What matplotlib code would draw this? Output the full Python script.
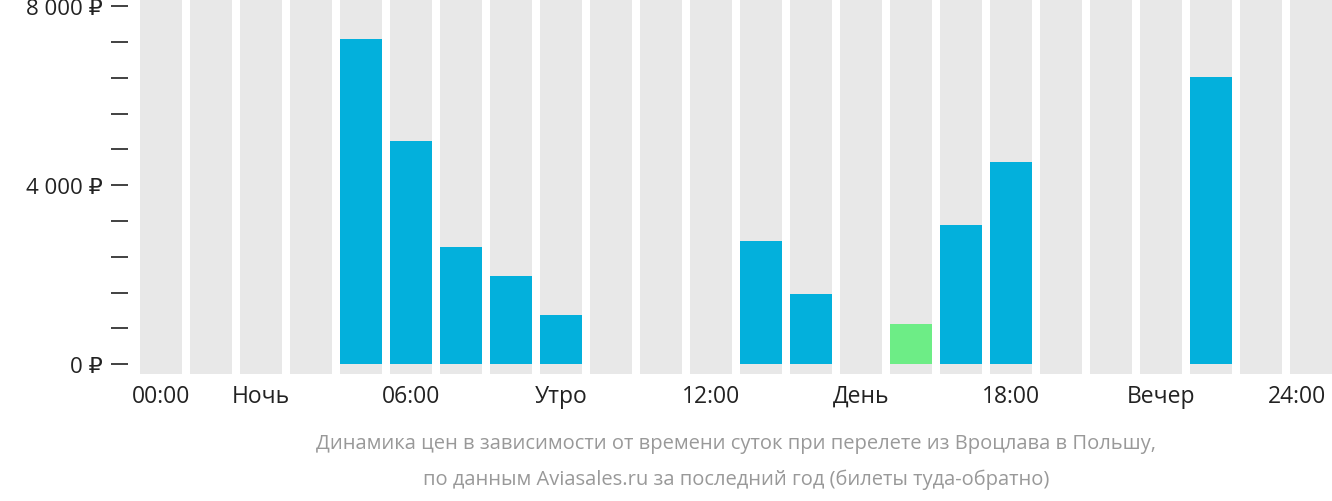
import matplotlib
matplotlib.use("Agg")
import matplotlib.pyplot as plt
import numpy as np

plt.rcParams['font.family'] = ['Open Sans', 'DejaVu Sans']

hours = list(range(24))
prices = [0, 0, 0, 0, 7263, 4983, 2615, 1966, 1095, 0, 0, 0, 2749, 1564, 0, 894, 3106, 4514, 0, 0, 0, 6413, 0, 0]
cheapest = 15
xtick_pos = [0, 2, 5, 8, 11, 14, 17, 20, 22.72]
xtick_labels = ["00:00", "Ночь", "06:00", "Утро", "12:00", "День", "18:00", "Вечер", "24:00"]
ytick_major = [0, 4000, 8000]
ytick_labels = ["0 ₽", "4 000 ₽", "8 000 ₽"]

fig = plt.figure(figsize=(13.32, 5.02), dpi=100)
ax = fig.add_axes([135/1332, 127/502, 1197/1332, 375/502])
ax.set_xlim(-0.52, 23.42)
ax.set_ylim(-220, 8160)

ax.bar(hours, [8380]*24, bottom=-220, width=0.84, color='#e8e8e8', zorder=1)
colors = ['#6ded86' if i == cheapest else '#03b0dc' for i in hours]
ax.bar(hours, prices, width=0.84, color=colors, zorder=2)

for s in ax.spines.values():
    s.set_visible(False)
ax.spines['left'].set_position(('outward', 5))
ax.set_yticks(ytick_major)
ax.set_yticklabels(ytick_labels)
ax.set_yticks(np.arange(0, 8001, 800), minor=True)
ax.tick_params(axis='y', which='both', length=12, width=1.3, color='#333333', labelsize=16, labelcolor='#222222', pad=6)
ax.set_xticks(xtick_pos)
ax.set_xticklabels(xtick_labels)
ax.tick_params(axis='x', length=0, labelsize=16.5, labelcolor='#222222', pad=7)

cx = 736/1332
fig.text(cx, 1-444/502, "Динамика цен в зависимости от времени суток при перелете из Вроцлава в Польшу,",
         ha='center', va='center', fontsize=14.5, color='#999999')
fig.text(cx, 1-480/502, "по данным Aviasales.ru за последний год (билеты туда-обратно)",
         ha='center', va='center', fontsize=14.5, color='#999999')

fig.savefig("out.png", dpi=100)
